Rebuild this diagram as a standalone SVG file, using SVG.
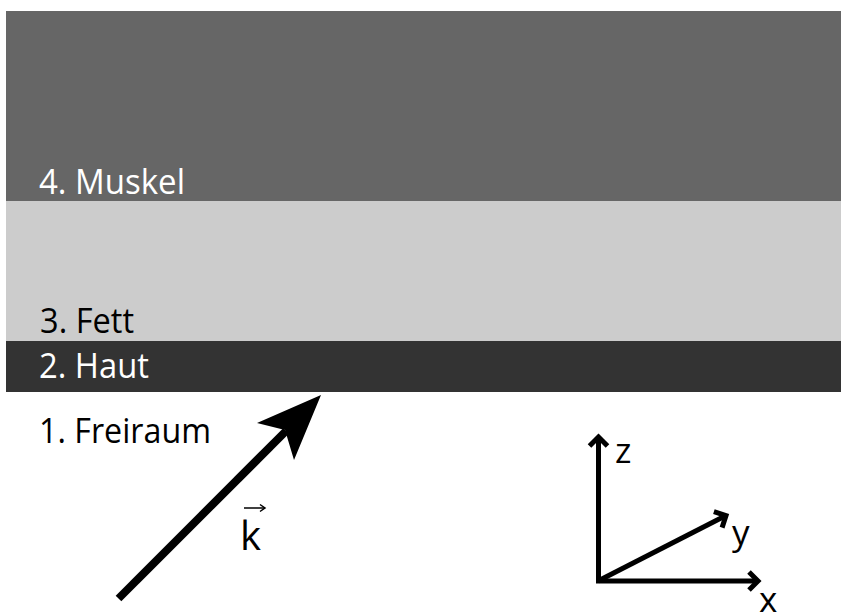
<svg xmlns="http://www.w3.org/2000/svg" width="841" height="612" viewBox="0 0 841 612">
<style>
.lbl{font-family:"Open Sans","Liberation Sans",sans-serif;font-size:35px}
.ax{font-family:"Open Sans","Liberation Sans",sans-serif;font-size:35px;fill:#000}
.w{fill:#fff}
.b{fill:#000}
.axis{stroke:#000;stroke-width:5;fill:none}
</style>
<defs>
<marker id="chev" markerUnits="userSpaceOnUse" markerWidth="30" markerHeight="30" viewBox="-15 -15 30 30" refX="0" refY="0" orient="auto" overflow="visible">
<path d="M-9,-9 L0,0 L-9,9" fill="none" stroke="#000" stroke-width="5" stroke-linejoin="miter"/>
</marker>
</defs>
<g id="muskel">
<rect x="6" y="11" width="835" height="190" fill="#666666"/>
<text class="lbl w" x="39" y="194" textLength="146" lengthAdjust="spacingAndGlyphs">4. Muskel</text>
</g>
<g id="fett">
<rect x="6" y="201" width="835" height="140" fill="#cccccc"/>
<text class="lbl b" x="40" y="333" textLength="94" lengthAdjust="spacingAndGlyphs">3. Fett</text>
</g>
<g id="haut">
<rect x="6" y="341" width="835" height="51" fill="#333333"/>
<text class="lbl w" x="39" y="378" textLength="110" lengthAdjust="spacingAndGlyphs">2. Haut</text>
</g>
<g id="freiraum">
<text class="lbl b" x="39" y="443" textLength="172" lengthAdjust="spacingAndGlyphs">1. Freiraum</text>
</g>
<g id="connectors">
<g id="k-vector">
<line x1="118.5" y1="598.5" x2="286" y2="431" stroke="#000" stroke-width="8"/>
<polygon points="321,395 257,423 285,430 294,460" fill="#000"/>
</g>
<g id="axes">
<line class="axis" x1="598.5" y1="583" x2="598.5" y2="437" marker-end="url(#chev)"/>
<line class="axis" x1="596" y1="581" x2="758" y2="581" marker-end="url(#chev)"/>
<line class="axis" x1="598" y1="581" x2="726" y2="515.5" marker-end="url(#chev)"/>
</g>
</g>
<g id="k-label">
<text class="ax" x="240" y="550" style="font-size:40px">k</text>
<line x1="244" y1="508" x2="264" y2="508" stroke="#000" stroke-width="1.5"/>
<path d="M260,504.5 L265,508 L260,511.5" fill="none" stroke="#000" stroke-width="1.5"/>
</g>
<g id="z-label"><text class="ax" x="615" y="463">z</text></g>
<g id="y-label"><text class="ax" x="732" y="545">y</text></g>
<g id="x-label"><text class="ax" x="759" y="612">x</text></g>
</svg>
